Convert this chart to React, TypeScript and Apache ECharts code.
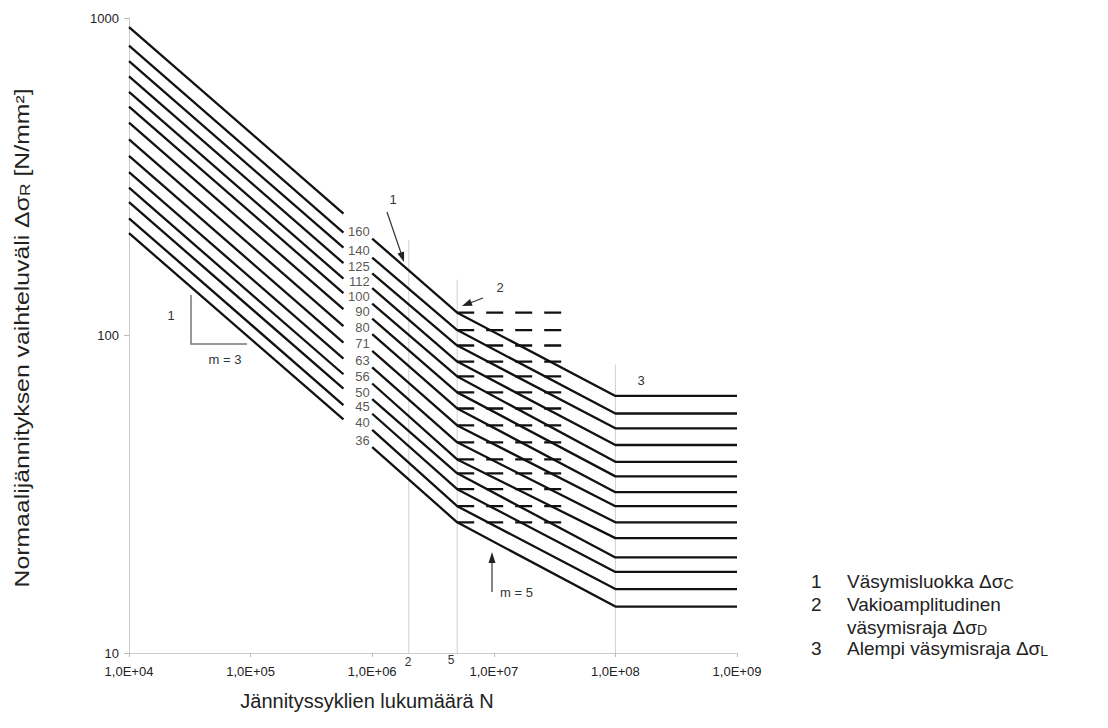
import React, { useEffect, useRef } from 'react';
import * as echarts from 'echarts';

// Detail categories (Δσc at 2·10^6 cycles)
const categories = [160, 140, 125, 112, 100, 90, 80, 71, 63, 56, 50, 45, 40, 36];
// Stress range at N = 1e4 (left start of m=3 lines)
const sigmaStart = [936, 819, 731, 655, 585, 526, 468, 415, 368, 327, 292, 263, 234, 210];
// Stress range where the left part ends (before labels gap)
const sigmaGapLeft = [242, 211, 189, 169, 151, 136, 121, 107, 95, 84.6, 75.5, 68, 60.4, 54.4];
// Stress range where the right part starts (after labels gap)
const sigmaGapRight = [202, 176, 157, 141, 126, 113, 101, 89.5, 79.4, 70.6, 63, 56.7, 50.4, 44.5];
// Constant amplitude fatigue limit ΔσD at N = 5e6
const sigmaD = [118, 104, 93, 82.8, 74.3, 66.2, 58.9, 52.1, 46.1, 40.7, 36.8, 32.8, 29, 25.8];
// Cut-off limit ΔσL at N = 1e8
const sigmaL = [64.5, 56.8, 51, 45.2, 40, 36, 32.1, 29, 25.8, 23, 20, 18, 15.9, 14];

// Cycle counts of the break points
const nStart = 1e4;
const nGapLeft = 5.8e5;
const nGapRight = 1e6;
const nD = 5e6;
const nDashEnd = 3.8e7;
const nL = 1e8;
const nEnd = 1e9;

// Thin vertical guide lines
const guideN = [2e6, 5e6, 1e8];
const guideTop = [200, 150, 81];

const xTickLabels = ['1,0E+04', '1,0E+05', '1,0E+06', '1,0E+07', '1,0E+08', '1,0E+09'];
const yTickLabels = ['10', '100', '1000'];

const FONT = '"Liberation Sans", Arial, Helvetica, sans-serif';

export default function App() {
  const ref = useRef<HTMLDivElement>(null);

  useEffect(() => {
    if (!ref.current) return;
    const chart = echarts.init(ref.current, undefined, { renderer: 'svg' });

    const black = { color: '#111', width: 2.3 };
    const series: any[] = [];

    guideN.forEach((n, i) => {
      series.push({
        type: 'line',
        data: [[n, guideTop[i]], [n, 10]],
        symbol: 'none',
        silent: true,
        lineStyle: { color: '#cfcfcf', width: 1 },
        z: 1,
      });
    });

    categories.forEach((c, i) => {
      series.push({
        type: 'line',
        data: [[nStart, sigmaStart[i]], [nGapLeft, sigmaGapLeft[i]]],
        symbol: 'none',
        silent: true,
        lineStyle: black,
        z: 3,
      });
      series.push({
        type: 'line',
        data: [
          [nGapRight, sigmaGapRight[i]],
          [nD, sigmaD[i]],
          [nL, sigmaL[i]],
          [nEnd, sigmaL[i]],
        ],
        symbol: 'none',
        silent: true,
        lineStyle: black,
        z: 3,
      });
      series.push({
        type: 'line',
        data: [[nD, sigmaD[i]], [nDashEnd, sigmaD[i]]],
        symbol: 'none',
        silent: true,
        lineStyle: { color: '#111', width: 2.3, type: [17, 12] },
        z: 3,
      });
    });

    series.push({
      type: 'scatter',
      data: categories.map((c, i) => ({ value: [nGapRight, sigmaGapRight[i]], name: String(c) })),
      symbolSize: 1,
      silent: true,
      itemStyle: { color: 'rgba(0,0,0,0)' },
      label: {
        show: true,
        position: 'left',
        distance: 2,
        offset: [0, -7],
        formatter: (p: any) => p.name,
        fontSize: 13,
        color: '#2a2a2a',
        fontFamily: FONT,
      },
      z: 4,
    });

    const txt = (x: number, y: number, text: string, size: number, extra: any = {}) => ({
      type: 'text',
      x,
      y,
      style: {
        text,
        fontSize: size,
        fontFamily: FONT,
        fill: extra.fill || '#333',
        align: extra.align || 'center',
        verticalAlign: 'middle',
        rich: extra.rich,
      },
      rotation: extra.rotation || 0,
      scaleX: extra.scaleX || 1,
    });

    const subRich = {
      s: { fontSize: 14, verticalAlign: 'bottom', lineHeight: 10, fontFamily: FONT, fill: '#222' },
    };

    const graphic: any[] = [
      // slope triangle m = 3
      {
        type: 'polyline',
        shape: { points: [[191, 295], [191, 344], [247, 344]] },
        style: { stroke: '#777', lineWidth: 1.5, fill: 'none' },
      },
      txt(171, 315, '1', 13),
      txt(225, 359, 'm = 3', 13),
      // arrow 1
      { type: 'line', shape: { x1: 387, y1: 212, x2: 401, y2: 253 }, style: { stroke: '#333', lineWidth: 1.2 } },
      { type: 'polygon', shape: { points: [[404, 262], [397.5, 253.6], [404.1, 251.4]] }, style: { fill: '#222' } },
      txt(393, 199, '1', 13),
      // arrow 2
      { type: 'line', shape: { x1: 483, y1: 298, x2: 470, y2: 303 }, style: { stroke: '#333', lineWidth: 1.2 } },
      { type: 'polygon', shape: { points: [[462, 306], [470.1, 299.1], [472.6, 305.7]] }, style: { fill: '#222' } },
      txt(500, 287, '2', 13),
      txt(641, 380, '3', 13),
      // arrow m = 5
      { type: 'line', shape: { x1: 492, y1: 592, x2: 492, y2: 561 }, style: { stroke: '#333', lineWidth: 1.2 } },
      { type: 'polygon', shape: { points: [[492, 552], [488.5, 563], [495.5, 563]] }, style: { fill: '#222' } },
      txt(500, 592, 'm = 5', 13, { align: 'left' }),
      // below-axis marks
      txt(408, 662, '2', 12),
      txt(451, 660, '5', 12),
      // axis titles
      txt(367, 701, 'Jännityssyklien lukumäärä N', 20, { fill: '#222' }),
      txt(22, 338, 'Normaalijännityksen vaihteluväli Δσ{s|R} [N/mm²]', 20, {
        fill: '#222',
        rotation: Math.PI / 2,
        rich: subRich,
        scaleX: 1.24,
      }),
      // legend of annotations
      txt(811, 581, '1', 19, { fill: '#222', align: 'left' }),
      txt(847, 581, 'Väsymisluokka Δσ{s|C}', 19, { fill: '#222', align: 'left', rich: subRich }),
      txt(811, 604, '2', 19, { fill: '#222', align: 'left' }),
      txt(847, 604, 'Vakioamplitudinen', 19, { fill: '#222', align: 'left' }),
      txt(847, 627, 'väsymisraja Δσ{s|D}', 19, { fill: '#222', align: 'left', rich: subRich }),
      txt(811, 648, '3', 19, { fill: '#222', align: 'left' }),
      txt(847, 648, 'Alempi väsymisraja Δσ{s|L}', 19, { fill: '#222', align: 'left', rich: subRich }),
    ];

    chart.setOption({
      animation: false,
      textStyle: { fontFamily: FONT },
      grid: { left: 129, right: 371, top: 18, bottom: 75, containLabel: false },
      xAxis: {
        type: 'log',
        logBase: 10,
        min: 1e4,
        max: 1e9,
        axisLine: { lineStyle: { color: '#cccccc', width: 1 } },
        axisTick: { show: true, length: 4, lineStyle: { color: '#bbbbbb' } },
        minorTick: { show: false },
        splitLine: { show: false },
        axisLabel: {
          fontSize: 13,
          color: '#222',
          margin: 12,
          fontFamily: FONT,
          formatter: (v: number) => xTickLabels[Math.round(Math.log10(v)) - 4] ?? '',
        },
      },
      yAxis: {
        type: 'log',
        logBase: 10,
        min: 10,
        max: 1000,
        axisLine: { show: true, lineStyle: { color: '#cccccc', width: 1 } },
        axisTick: { show: true, length: 5, lineStyle: { color: '#bbbbbb' } },
        minorTick: { show: false },
        splitLine: { show: false },
        axisLabel: {
          fontSize: 13,
          color: '#222',
          margin: 10,
          fontFamily: FONT,
          formatter: (v: number) => yTickLabels[Math.round(Math.log10(v)) - 1] ?? '',
        },
      },
      series,
      graphic,
    });

    return () => chart.dispose();
  }, []);

  return (
    <div
      ref={ref}
      style={{ position: 'fixed', left: 0, top: 0, width: 1108, height: 728, background: '#fff' }}
    />
  );
}
